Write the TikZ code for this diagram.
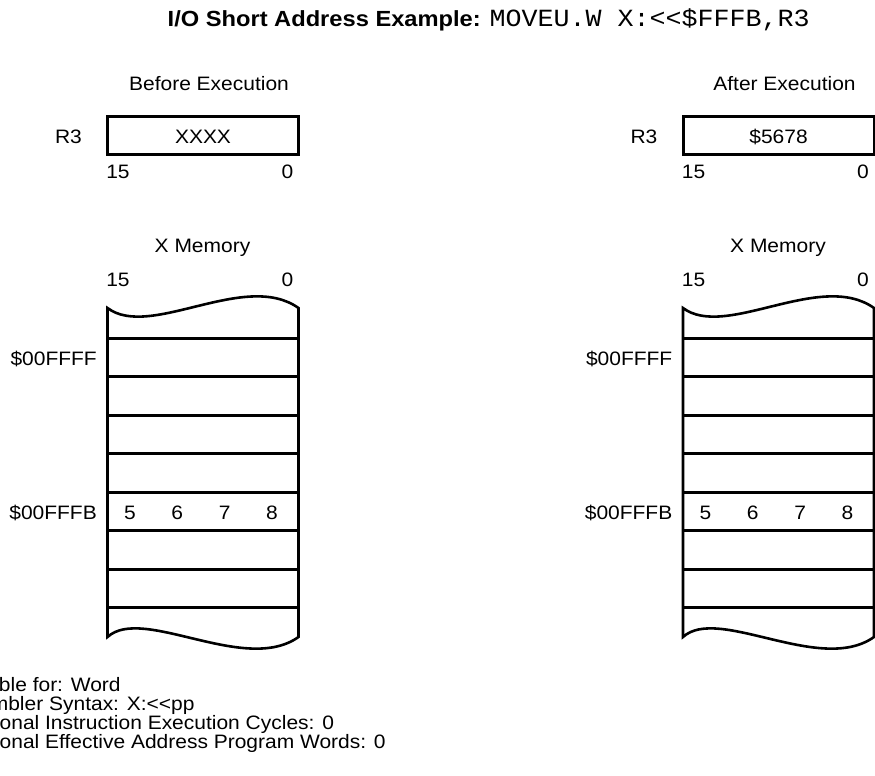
\documentclass[tikz,border=0pt]{standalone}
\usepackage{fontspec}
\setmainfont{Liberation Sans}[FakeStretch=1.08]
\newfontfamily\codefont{Liberation Mono}[FakeStretch=1.08]
\tikzset{
  txt/.style={inner sep=0pt, font=\fontsize{19.5}{18.5}\selectfont},
  regbox/.style={draw, line width=3bp, minimum width=191bp, minimum height=38bp, inner sep=0pt},
  memline/.style={line width=3bp},
  memwave/.style={line width=2.6bp, line join=miter},
}
\newcommand\drawpanel[4]{%
  \node[txt, anchor=base] (#2head) at (#1+101.5,90) {#3};
  \node[regbox] (#2reg) at (#1+95.5,135) {};
  \node[txt, anchor=base] (#2regval) at (#2reg.center |- 0,143.3) {#4};
  \node[txt, anchor=base] (#2rlab) at (#1-39,143.3) {R3};
  \node[txt, anchor=base] (#2rhi) at (#1+10.5,178) {15};
  \node[txt, anchor=base] (#2rlo) at (#1+180,178) {0};
  \node[txt, anchor=base] (#2mhead) at (#1+95,252) {X Memory};
  \node[txt, anchor=base] (#2mhi) at (#1+10.5,286.5) {15};
  \node[txt, anchor=base] (#2mlo) at (#1+180,286.5) {0};
  \draw[memwave] (#1,637) -- (#1,308)
     .. controls (#1+42.5,340) and (#1+137.5,270) .. (#1+191,308)
     -- (#1+191,637)
     .. controls (#1+137.5,675) and (#1+35,605) .. cycle;
  \foreach \yy in {338,376.5,415,453.5,492,530.5,569,607.5}
    \draw[memline] (#1,\yy) -- (#1+191,\yy);
  \node[txt, anchor=base east] (#2addrA) at (#1-10.5,365.3) {\$00FFFF};
  \node[txt, anchor=base east] (#2addrB) at (#1-10.5,519.3) {\$00FFFB};
  \node[txt, anchor=base] (#2dA) at (#1+22.5,519.3) {5};
  \node[txt, anchor=base] (#2dB) at (#1+69.8,519.3) {6};
  \node[txt, anchor=base] (#2dC) at (#1+117.1,519.3) {7};
  \node[txt, anchor=base] (#2dD) at (#1+164.4,519.3) {8};
}
\begin{document}
\begin{tikzpicture}[x=1bp, y=-1bp]
  \useasboundingbox (0,0) rectangle (875,776);
  \clip (0,0) rectangle (875,776);
  \node[anchor=base west, inner sep=0pt] (title) at (167.5,27)
    {\fontsize{22}{26}\selectfont\bfseries I/O Short Address Example: \codefont\mdseries\fontsize{24.8}{26}\selectfont MOVEU.W X:<{}<\$FFFB,R3};
  \drawpanel{107.5}{b}{Before Execution}{XXXX}
  \drawpanel{683}{a}{After Execution}{\$5678}
  \node[txt, anchor=base west] (avail) at (-58,691) {Available for: Word};
  \node[txt, anchor=base west] (asm) at (-56,710) {Assembler Syntax: X:<{}<pp};
  \node[txt, anchor=base west] (cyc) at (-53,729) {Additional Instruction Execution Cycles: 0};
  \node[txt, anchor=base west] (words) at (-53,748) {Additional Effective Address Program Words: 0};
\end{tikzpicture}
\end{document}
